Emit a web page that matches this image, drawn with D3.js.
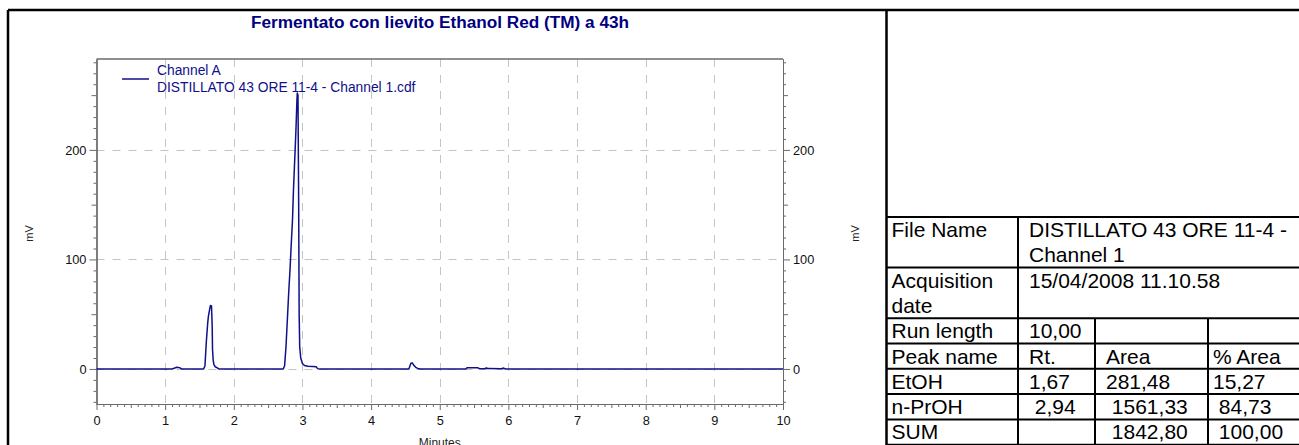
<!DOCTYPE html>
<html>
<head>
<meta charset="utf-8">
<script src="https://cdn.jsdelivr.net/npm/d3@7"></script>
<style>
  html, body { margin: 0; padding: 0; background: #fff; }
  svg { display: block; font-family: "Liberation Sans", Arial, sans-serif; }
  .pre { white-space: pre; }
</style>
</head>
<body>
<svg id="chart" width="1299" height="445"></svg>
<script>
// Chromatogram trace: retention time (min) and detector signal (mV)
const timeMin = [
  0, 1.10, 1.14, 1.17, 1.21, 1.24,
  1.56, 1.58, 1.60, 1.62, 1.63, 1.65, 1.66, 1.675, 1.685, 1.69, 1.70, 1.71, 1.73, 1.76, 1.78,
  2.72, 2.74, 2.76, 2.78, 2.80, 2.82, 2.84, 2.855, 2.87, 2.89, 2.905, 2.92, 2.925, 2.935, 2.945, 2.952, 2.96, 2.975,
  3.00, 3.03, 3.08, 3.15, 3.20, 3.22, 3.25,
  4.55, 4.58, 4.60, 4.62, 4.65, 4.68, 4.72,
  5.38, 5.40, 5.55, 5.58, 5.65, 5.68, 5.71, 5.90, 5.93, 5.96, 10
];
const signalMv = [
  0, 0, 0.8, 1.5, 1.2, 0,
  0, 3, 25, 42, 48, 55, 58, 57.5, 40, 18, 8, 4, 2, 1, 0,
  0, 3, 20, 45, 70, 92, 118, 136, 165, 195, 218, 246, 252, 250, 150, 50, 20, 10,
  5, 3.2, 2.5, 2.2, 2.0, 0.3, 0,
  0, 5.2, 5.5, 3.5, 1.5, 0.5, 0,
  0, 1.2, 1.2, 0.2, 0.2, 0.9, 0.3, 0.2, 0.8, 0, 0
];

// Axis ticks
const xTicks = [0, 1, 2, 3, 4, 5, 6, 7, 8, 9, 10];
const yTicks = [0, 100, 200];

// Texts
const chartTitle = "Fermentato con lievito Ethanol Red (TM) a 43h";
const legendLines = ["Channel A", "DISTILLATO 43 ORE 11-4 - Channel 1.cdf"];
const xLabel = "Minutes";
const yLabel = "mV";

// Report table
const fileNameLines = ["DISTILLATO 43 ORE 11-4 -", "Channel 1"];
const acquisitionLabel = ["Acquisition", "date"];
const acquisitionDate = "15/04/2008 11.10.58";
const runLength = "10,00";
const peakHeader = ["Peak name", "Rt.", "Area", "% Area"];
const peakNames = ["EtOH", "n-PrOH"];
const peakRt = ["1,67", " 2,94"];
const peakArea = ["281,48", " 1561,33"];
const peakAreaPct = ["15,27", " 84,73"];
const sumRow = ["SUM", "", " 1842,80", " 100,00"];

const svg = d3.select("#chart");
const navy = "#10108a";
const axisColor = "#6a6a6a";
const gridColor = "#c4c4c4";

// Outer frame
svg.append("line").attr("x1", 8).attr("x2", 1299).attr("y1", 10).attr("y2", 10)
  .attr("stroke", "#000").attr("stroke-width", 2.5);
svg.append("line").attr("x1", 8).attr("x2", 8).attr("y1", 10).attr("y2", 445)
  .attr("stroke", "#000").attr("stroke-width", 2.5);
svg.append("line").attr("x1", 886.5).attr("x2", 886.5).attr("y1", 10).attr("y2", 445)
  .attr("stroke", "#000").attr("stroke-width", 2.5);

// Scales
const x = d3.scaleLinear().domain([0, 10]).range([96.5, 783]);
const y = d3.scaleLinear().domain([-32, 283]).range([404, 59]);

// Title
svg.append("text").attr("x", 440).attr("y", 28).attr("text-anchor", "middle")
  .attr("font-size", 17.2).attr("font-weight", "bold").attr("fill", "#000080")
  .text(chartTitle);

// Grid
const grid = svg.append("g").attr("stroke", gridColor).attr("stroke-width", 1)
  .attr("stroke-dasharray", "8,8");
grid.selectAll(".vg").data(xTicks.filter(d => d > 0 && d < 10)).join("line")
  .attr("x1", d => Math.round(x(d)) + 0.5).attr("x2", d => Math.round(x(d)) + 0.5)
  .attr("y1", y.range()[1]).attr("y2", y.range()[0]);
grid.selectAll(".hg").data(yTicks).join("line")
  .attr("x1", x.range()[0]).attr("x2", x.range()[1])
  .attr("y1", d => Math.round(y(d)) + 0.5).attr("y2", d => Math.round(y(d)) + 0.5);

// Minor tick values
const yMinor = d3.range(-30, 290, 10).filter(v => v % 100 !== 0);
const xMinor = d3.range(1, 100).map(v => v / 10).filter(v => Math.abs(v - Math.round(v)) > 1e-9);

function styleAxis(g) {
  g.selectAll("path, line").attr("stroke", axisColor);
  g.selectAll("text").attr("fill", "#111").attr("font-size", 12.8)
    .attr("font-family", "'Liberation Sans', Arial, sans-serif");
}

// Left axis
const leftMinor = svg.append("g").attr("transform", `translate(${x.range()[0]},0)`)
  .call(d3.axisLeft(y).tickValues(yMinor.filter(v => v % 50 !== 0)).tickSize(3).tickFormat("").tickSizeOuter(0));
const leftMid = svg.append("g").attr("transform", `translate(${x.range()[0]},0)`)
  .call(d3.axisLeft(y).tickValues(yMinor.filter(v => v % 50 === 0)).tickSize(5).tickFormat("").tickSizeOuter(0));
const leftAxis = svg.append("g").attr("transform", `translate(${x.range()[0]},0)`)
  .call(d3.axisLeft(y).tickValues(yTicks).tickSize(7).tickPadding(3).tickSizeOuter(0));
[leftMinor, leftMid, leftAxis].forEach(styleAxis);

// Right axis
const rightMinor = svg.append("g").attr("transform", `translate(${x.range()[1]},0)`)
  .call(d3.axisRight(y).tickValues(yMinor.filter(v => v % 50 !== 0)).tickSize(3).tickFormat("").tickSizeOuter(0));
const rightMid = svg.append("g").attr("transform", `translate(${x.range()[1]},0)`)
  .call(d3.axisRight(y).tickValues(yMinor.filter(v => v % 50 === 0)).tickSize(5).tickFormat("").tickSizeOuter(0));
const rightAxis = svg.append("g").attr("transform", `translate(${x.range()[1]},0)`)
  .call(d3.axisRight(y).tickValues(yTicks).tickSize(7).tickPadding(3).tickSizeOuter(0));
[rightMinor, rightMid, rightAxis].forEach(styleAxis);

// Bottom axis
const bottomMinor = svg.append("g").attr("transform", `translate(0,${y.range()[0]})`)
  .call(d3.axisBottom(x).tickValues(xMinor.filter(v => Math.abs(v * 2 - Math.round(v * 2)) > 1e-9)).tickSize(3).tickFormat("").tickSizeOuter(0));
const bottomMid = svg.append("g").attr("transform", `translate(0,${y.range()[0]})`)
  .call(d3.axisBottom(x).tickValues(xMinor.filter(v => Math.abs(v * 2 - Math.round(v * 2)) < 1e-9)).tickSize(4).tickFormat("").tickSizeOuter(0));
const bottomAxis = svg.append("g").attr("transform", `translate(0,${y.range()[0]})`)
  .call(d3.axisBottom(x).tickValues(xTicks).tickSize(6).tickPadding(6).tickSizeOuter(0));
[bottomMinor, bottomMid, bottomAxis].forEach(styleAxis);

// Top frame line
svg.append("line").attr("x1", x.range()[0]).attr("x2", x.range()[1])
  .attr("y1", y.range()[1]).attr("y2", y.range()[1])
  .attr("stroke", axisColor).attr("stroke-width", 1.5);

// Axis titles
svg.append("text").attr("transform", `translate(33,${y(100) - 26}) rotate(-90)`)
  .attr("text-anchor", "middle").attr("font-size", 11).attr("fill", "#222").text(yLabel);
svg.append("text").attr("transform", `translate(859,${y(100) - 26}) rotate(-90)`)
  .attr("text-anchor", "middle").attr("font-size", 11).attr("fill", "#222").text(yLabel);
svg.append("text").attr("x", (x.range()[0] + x.range()[1]) / 2).attr("y", 447)
  .attr("text-anchor", "middle").attr("font-size", 12).attr("fill", "#222").text(xLabel);

// Trace
const line = d3.line().x((d, i) => x(timeMin[i])).y(d => y(d));
svg.append("path").datum(signalMv).attr("d", line)
  .attr("fill", "none").attr("stroke", navy).attr("stroke-width", 1.5)
  .attr("stroke-linejoin", "round");

// Legend
svg.append("line").attr("x1", 122).attr("x2", 149).attr("y1", 79).attr("y2", 79)
  .attr("stroke", navy).attr("stroke-width", 1.5);
svg.selectAll(".legendText").data(legendLines).join("text")
  .attr("x", 157).attr("y", (d, i) => 75 + i * 17)
  .attr("font-size", 13.8).attr("fill", navy).text(d => d);

// Table
const tbl = svg.append("g");
const colX = [886.5, 1018, 1095, 1208];
const lineH = 25.3;
const top0 = 217;
const rowTops = [0, 2, 4, 5, 6, 7, 8, 9].map(k => top0 + k * lineH);
const fs = 21;

tbl.selectAll(".hline").data(rowTops.slice(0, 8)).join("line")
  .attr("x1", colX[0]).attr("x2", 1299).attr("y1", d => d).attr("y2", d => d)
  .attr("stroke", "#000").attr("stroke-width", 2);
tbl.append("line").attr("x1", colX[1]).attr("x2", colX[1]).attr("y1", rowTops[0]).attr("y2", 445)
  .attr("stroke", "#000").attr("stroke-width", 2);
[colX[2], colX[3]].forEach(cx => {
  tbl.append("line").attr("x1", cx).attr("x2", cx).attr("y1", rowTops[2]).attr("y2", 445)
    .attr("stroke", "#000").attr("stroke-width", 2);
});

function cell(col, top, str, pad) {
  tbl.append("text").attr("class", "pre")
    .attr("x", colX[col] + (pad === undefined ? 5 : pad)).attr("y", top + 20)
    .attr("font-size", fs).attr("fill", "#000").text(str);
}
cell(0, rowTops[0], "File Name");
fileNameLines.forEach((s, i) => cell(1, rowTops[0] + i * lineH, s, 11));
acquisitionLabel.forEach((s, i) => cell(0, rowTops[1] + i * lineH, s));
cell(1, rowTops[1], acquisitionDate, 11);
cell(0, rowTops[2], "Run length");
cell(1, rowTops[2], runLength, 11);
peakHeader.forEach((s, i) => cell(i, rowTops[3], s, i === 0 ? 5 : (i === 3 ? 5 : 11)));
peakNames.forEach((n, r) => {
  const t = rowTops[4 + r];
  cell(0, t, n);
  cell(1, t, peakRt[r], 11);
  cell(2, t, peakArea[r], 11);
  cell(3, t, peakAreaPct[r], 5);
});
sumRow.forEach((s, i) => cell(i, rowTops[6], s, i === 0 ? 5 : (i === 3 ? 5 : 11)));
</script>
</body>
</html>
